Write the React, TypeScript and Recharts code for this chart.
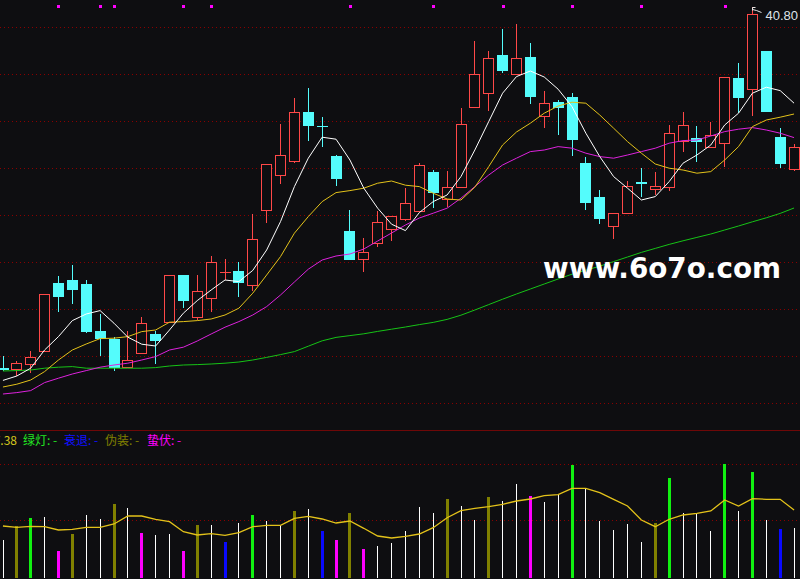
import React from "react";
import {
  ComposedChart,
  Bar,
  Line,
  XAxis,
  YAxis,
  CartesianGrid,
  ReferenceDot,
} from "recharts";

// price panel, one entry per trading day
const opens = [
  22.77, 22.69, 22.97, 23.59, 26.99, 27.15, 26.95, 24.6, 24.22, 22.82,
  23.49, 24.45, 25.04, 27.4, 25.32, 26.24, 27.54, 27.6, 26.89, 30.64,
  32.39, 33.09, 35.54, 34.85, 33.35, 29.6, 28.19, 28.99, 29.69, 30.19,
  30.59, 32.55, 31.22, 31.82, 35.79, 36.49, 38.4, 37.44, 38.3, 35.34,
  36.04, 36.32, 33.0, 31.3, 29.87, 30.49, 32.03, 31.72, 31.82, 34.1,
  34.27, 33.82, 33.99, 37.24, 36.69, 38.6, 34.32, 32.69,
];
const closes = [
  22.69, 22.99, 23.29, 26.44, 26.37, 26.72, 24.62, 24.27, 22.82, 23.14,
  24.99, 24.15, 27.4, 26.15, 26.59, 28.04, 27.54, 27.07, 29.19, 32.94,
  33.39, 35.54, 34.92, 34.83, 32.27, 28.22, 28.54, 30.04, 30.34, 30.99,
  32.89, 31.57, 31.79, 34.94, 37.44, 38.24, 37.65, 38.24, 36.37, 35.99,
  35.82, 34.22, 31.07, 30.25, 30.49, 31.85, 32.0, 31.84, 34.49, 34.89,
  34.1, 34.4, 37.29, 36.3, 40.45, 35.62, 33.02, 33.79,
];
const highs = [
  23.35, 23.1, 23.6, 26.45, 27.35, 27.9, 27.14, 25.45, 24.32, 24.62,
  25.3, 24.6, 27.41, 27.41, 27.42, 28.37, 28.2, 28.05, 30.44, 32.95,
  34.95, 36.27, 36.75, 35.3, 33.42, 30.65, 29.25, 30.6, 30.35, 31.75,
  33.0, 32.65, 32.62, 35.74, 39.1, 38.6, 39.7, 39.95, 39.0, 36.6,
  36.15, 36.49, 33.32, 31.65, 30.5, 32.1, 32.77, 32.55, 34.9, 35.57,
  34.85, 35.04, 37.3, 38.02, 40.8, 38.61, 34.74, 33.95,
];
const lows = [
  22.62, 22.35, 22.52, 23.55, 25.57, 25.97, 24.49, 23.37, 22.62, 22.74,
  23.47, 22.97, 25.03, 25.77, 25.15, 25.57, 27.15, 26.32, 26.6, 30.02,
  31.97, 33.02, 34.12, 33.82, 31.87, 28.21, 27.57, 28.82, 29.12, 30.09,
  30.58, 30.77, 30.82, 31.79, 35.78, 35.62, 37.52, 37.43, 35.97, 34.77,
  34.4, 33.37, 30.65, 29.94, 29.2, 30.48, 31.32, 31.4, 31.62, 33.57,
  33.07, 33.81, 32.82, 35.49, 35.37, 35.61, 32.77, 32.62,
];
const ma5 = [
  22.13, 22.35, 22.74, 23.65, 24.32, 25.12, 25.45, 25.62, 24.99, 24.29,
  23.94, 23.85, 24.65, 25.49, 26.12, 26.65, 27.15, 27.07, 27.63, 28.65,
  30.07, 31.82, 33.24, 34.29, 34.19, 33.15, 31.74, 30.74, 29.94, 29.62,
  30.52, 31.07, 31.4, 32.32, 33.65, 35.07, 36.49, 37.32, 37.6, 37.3,
  36.69, 35.82, 34.49, 33.32, 32.32, 31.74, 31.15, 31.32, 32.07, 32.99,
  33.4, 33.9, 34.9, 35.49, 36.49, 36.79, 36.62, 35.99,
];
const ma10 = [
  21.8, 21.94, 22.15, 22.57, 23.15, 23.65, 23.95, 24.22, 24.24, 24.32,
  24.57, 24.65, 25.04, 25.07, 25.12, 25.2, 25.4, 25.74, 26.49, 27.4,
  28.32, 29.49, 30.32, 31.07, 31.52, 31.62, 31.74, 31.99, 32.1, 31.89,
  31.82, 31.49, 31.2, 31.15, 31.79, 32.82, 33.9, 34.55, 34.99, 35.49,
  35.85, 36.04, 35.99, 35.4, 34.74, 34.07, 33.49, 32.95, 32.74, 32.65,
  32.49, 32.57, 33.15, 33.82, 34.82, 35.15, 35.29, 35.45,
];
const ma20 = [
  21.45, 21.52, 21.62, 22.02, 22.24, 22.45, 22.62, 22.79, 22.9, 22.99,
  23.15, 23.32, 23.65, 23.79, 24.1, 24.45, 24.79, 25.07, 25.4, 25.82,
  26.4, 27.05, 27.69, 28.15, 28.35, 28.45, 28.7, 29.1, 29.5, 29.9,
  30.25, 30.49, 30.74, 31.24, 31.82, 32.4, 32.9, 33.24, 33.57, 33.65,
  33.82, 33.74, 33.49, 33.32, 33.24, 33.4, 33.57, 33.74, 33.99, 34.12,
  34.15, 34.35, 34.57, 34.69, 34.77, 34.65, 34.49, 34.27,
];
const ma60 = [
  22.6, 22.62, 22.65, 22.74, 22.79, 22.82, 22.74, 22.74, 22.74, 22.74,
  22.74, 22.77, 22.85, 22.9, 22.92, 22.95, 22.99, 23.05, 23.15, 23.28,
  23.42, 23.57, 23.84, 24.11, 24.28, 24.37, 24.46, 24.58, 24.69, 24.8,
  24.92, 25.03, 25.18, 25.39, 25.65, 25.92, 26.19, 26.45, 26.7, 26.95,
  27.2, 27.44, 27.64, 27.84, 28.07, 28.3, 28.53, 28.73, 28.93, 29.11,
  29.28, 29.45, 29.65, 29.85, 30.06, 30.26, 30.48, 30.75,
];
const signalDays = [4, 7, 8, 13, 15, 25, 31, 36, 41, 46, 52];
const signalLevel = 40.85;
const highDay = 54;
const highPrice = 40.8;

// lower panel
const volume = [
  3.8, 5.2, 6.0, 6.1, 2.7, 4.4, 6.3, 5.9, 7.4, 7.0,
  4.5, 4.3, 4.4, 2.7, 5.3, 5.3, 3.6, 5.5, 6.3, 5.7,
  5.3, 6.7, 6.9, 4.7, 3.8, 6.5, 2.9, 3.2, 3.5, 4.7,
  7.1, 6.5, 7.9, 7.2, 5.8, 8.1, 7.7, 9.4, 8.2, 7.6,
  8.4, 11.3, 9.0, 5.7, 4.8, 5.4, 3.6, 5.5, 10.0, 6.5,
  6.4, 4.7, 11.4, 6.7, 10.6, 5.8, 4.9, 5.0,
];
// w = plain, g = 绿灯, b = 衰退, o = 伪装, m = 蛰伏
const volumeKind = [
  "w", "o", "g", "w", "m", "o", "w", "w", "o", "w",
  "m", "w", "w", "m", "o", "w", "b", "w", "g", "w",
  "w", "o", "w", "b", "m", "o", "m", "w", "w", "w",
  "w", "w", "o", "w", "w", "o", "w", "w", "m", "w",
  "w", "g", "w", "w", "w", "w", "w", "o", "g", "w",
  "w", "w", "g", "w", "g", "w", "b", "w",
];
const volumeAvg = [
  5.2, 5.07, 5.17, 5.13, 4.8, 4.87, 5.07, 5.07, 5.4, 6.2,
  6.2, 5.87, 5.63, 4.63, 4.3, 4.43, 4.27, 4.53, 5.13, 5.27,
  5.27, 5.97, 6.17, 5.9, 5.5, 5.7, 4.97, 4.2, 4.0, 4.17,
  4.4, 5.03, 6.03, 6.73, 6.97, 7.13, 7.37, 7.7, 7.9, 8.23,
  8.33, 8.97, 8.97, 8.53, 7.87, 7.2, 5.8, 5.13, 5.87, 6.3,
  6.47, 6.7, 7.8, 7.2, 7.93, 7.87, 7.87, 6.8,
];
const legendValue = "7.38";
const legendItems = [
  { label: "绿灯: -", color: "#22e622", x: 23 },
  { label: "衰退: -", color: "#1010ff", x: 64 },
  { label: "伪装: -", color: "#808000", x: 105 },
  { label: "蛰伏: -", color: "#ff00ff", x: 147 },
];

const priceData = opens.map((open, i) => ({
  i,
  open,
  close: closes[i],
  high: highs[i],
  low: lows[i],
  range: [lows[i], highs[i]],
  ma5: ma5[i],
  ma10: ma10[i],
  ma20: ma20[i],
  ma60: ma60[i],
}));
const volData = volume.map((v, i) => ({
  i,
  v,
  kind: volumeKind[i],
  avg: volumeAvg[i],
}));

const BG = "#0e0e11";
const UP = "#ff4848";
const DOWN = "#54fcfc";
const GRID = "#8a0000";
const KIND_COLOR: Record<string, string> = {
  w: "#ffffff",
  g: "#11f011",
  b: "#0a0aff",
  o: "#808000",
  m: "#ff00ff",
};

const CHART_W = 805;
const PRICE_H = 431;
const VOL_H = 148;

function Candle(props: any) {
  const { x, y, width, height, payload } = props;
  const { open, close, high, low } = payload;
  const top = Math.min(y, y + height);
  const h = Math.abs(height);
  const py = (p: number) =>
    high === low ? top : top + ((high - p) / (high - low)) * h;
  const xc = Math.round(x + width / 2);
  const up = close >= open;
  const color = up ? UP : DOWN;
  const hi = Math.round(py(high));
  const lo = Math.round(py(low));
  const t = Math.round(py(Math.max(open, close)));
  const b = Math.round(py(Math.min(open, close)));
  const flat = b - t < 1;

  return (
    <g shapeRendering="crispEdges">
      {up ? (
        <>
          <line x1={xc + 0.5} x2={xc + 0.5} y1={hi} y2={t} stroke={color} />
          <line x1={xc + 0.5} x2={xc + 0.5} y1={b} y2={lo} stroke={color} />
        </>
      ) : (
        <line x1={xc + 0.5} x2={xc + 0.5} y1={hi} y2={lo} stroke={color} />
      )}
      {flat ? (
        <line x1={xc - 5} x2={xc + 6} y1={t + 0.5} y2={t + 0.5} stroke={color} />
      ) : up ? (
        <rect x={xc - 4.5} y={t + 0.5} width={10} height={b - t} fill={BG} stroke={color} />
      ) : (
        <rect x={xc - 5} y={t} width={11} height={b - t + 1} fill={color} />
      )}
    </g>
  );
}

function VolBar(props: any) {
  const { x, y, width, height, payload } = props;
  const xc = Math.round(x + width / 2);
  const w = payload.kind === "w" ? 1 : 3;
  const top = Math.round(y);
  const bottom = Math.round(y + height);
  return (
    <rect
      x={xc - (w - 1) / 2}
      y={top}
      width={w}
      height={bottom - top}
      fill={KIND_COLOR[payload.kind]}
      shapeRendering="crispEdges"
    />
  );
}

function SignalMark(props: any) {
  const { cx, cy } = props;
  return (
    <rect
      x={Math.round(cx) - 1}
      y={Math.round(cy) - 1}
      width={3}
      height={3}
      fill="#ff00ff"
      shapeRendering="crispEdges"
    />
  );
}

function HighMark(props: any) {
  const { cx, cy } = props;
  const x0 = Math.round(cx) + 0.5;
  const y0 = Math.round(cy) + 0.5;
  return (
    <g>
      <path
        d={`M${x0},${y0 + 3} L${x0},${y0} L${x0 + 3},${y0} M${x0},${y0 + 2} L${x0 + 4},${y0 + 3} L${x0 + 9},${y0 + 5}`}
        stroke="#e6e6e6"
        fill="none"
        strokeWidth={1}
      />
      <text
        x={x0 + 13}
        y={y0 + 12}
        fontSize={13}
        fontFamily="Liberation Sans, Arial, sans-serif"
        fill="#dfe3ea"
      >
        {highPrice.toFixed(2)}
      </text>
    </g>
  );
}

export default function App() {
  return (
    <div
      style={{
        position: "absolute",
        left: 0,
        top: 0,
        width: 800,
        height: 579,
        overflow: "hidden",
        background: BG,
        fontFamily: "'Noto Sans CJK SC', sans-serif",
      }}
    >
      {/* price panel */}
      <div style={{ position: "absolute", left: -4, top: 0 }}>
        <ComposedChart
          width={CHART_W}
          height={PRICE_H}
          data={priceData}
          margin={{ top: 0, right: 0, bottom: 0, left: 0 }}
        >
          <CartesianGrid
            vertical={false}
            horizontalPoints={[27.5, 74.5, 121.5, 168.5, 215.5, 262.5, 309.5, 356.5, 403.5]}
            stroke={GRID}
            strokeDasharray="1 3"
          />
          <XAxis dataKey="i" hide />
          <YAxis hide type="number" domain={[19.6, 41.15]} allowDataOverflow />
          <Bar
            dataKey="range"
            barSize={11}
            shape={Candle}
            isAnimationActive={false}
          />
          <Line type="linear" dataKey="ma60" stroke="#16c316" strokeWidth={1} dot={false} activeDot={false} isAnimationActive={false} />
          <Line type="linear" dataKey="ma20" stroke="#dd22dd" strokeWidth={1} dot={false} activeDot={false} isAnimationActive={false} />
          <Line type="linear" dataKey="ma10" stroke="#e3c21a" strokeWidth={1} dot={false} activeDot={false} isAnimationActive={false} />
          <Line type="linear" dataKey="ma5" stroke="#ffffff" strokeWidth={1} dot={false} activeDot={false} isAnimationActive={false} />
          {signalDays.map((d) => (
            <ReferenceDot
              key={d}
              x={d}
              y={signalLevel}
              ifOverflow="visible"
              shape={SignalMark}
            />
          ))}
          <ReferenceDot
            x={highDay}
            y={highPrice}
            ifOverflow="visible"
            shape={HighMark}
          />
        </ComposedChart>
      </div>

      {/* divider */}
      <div
        style={{
          position: "absolute",
          left: 0,
          top: 430,
          width: 800,
          height: 1,
          background: "#6e0808",
        }}
      />

      {/* lower panel */}
      <div style={{ position: "absolute", left: -4, top: 431 }}>
        <ComposedChart
          width={CHART_W}
          height={VOL_H}
          data={volData}
          margin={{ top: 0, right: 0, bottom: 0, left: 0 }}
        >
          <CartesianGrid
            vertical={false}
            horizontalPoints={[33.5, 89.5]}
            stroke={GRID}
            strokeDasharray="1 3"
          />
          <XAxis dataKey="i" hide />
          <YAxis hide type="number" domain={[-0.1, 14.7]} allowDataOverflow />
          <Bar dataKey="v" barSize={11} shape={VolBar} isAnimationActive={false} />
          <Line type="linear" dataKey="avg" stroke="#e3c21a" strokeWidth={1.3} dot={false} activeDot={false} isAnimationActive={false} />
        </ComposedChart>
      </div>

      {/* legend of the lower panel */}
      <svg
        width={800}
        height={20}
        style={{ position: "absolute", left: 0, top: 431 }}
      >
        <text
          x={17}
          y={13.5}
          textAnchor="end"
          fontSize={12}
          fill="#d6c81e"
          fontFamily="'Noto Sans CJK SC', sans-serif"
        >
          {legendValue}
        </text>
        {legendItems.map((it) => (
          <text
            key={it.label}
            x={it.x}
            y={13.5}
            fontSize={12}
            fill={it.color}
            fontFamily="'Noto Sans CJK SC', sans-serif"
          >
            {it.label}
          </text>
        ))}
      </svg>

      {/* watermark */}
      <svg
        width={800}
        height={579}
        style={{ position: "absolute", left: 0, top: 0, pointerEvents: "none" }}
      >
        <text
          x={543}
          y={278}
          fontSize={29}
          fontWeight="bold"
          fontFamily="'DejaVu Sans', sans-serif"
          fill="#ffffff"
          textLength={238}
          lengthAdjust="spacingAndGlyphs"
        >
          www.6o7o.com
        </text>
      </svg>
    </div>
  );
}
